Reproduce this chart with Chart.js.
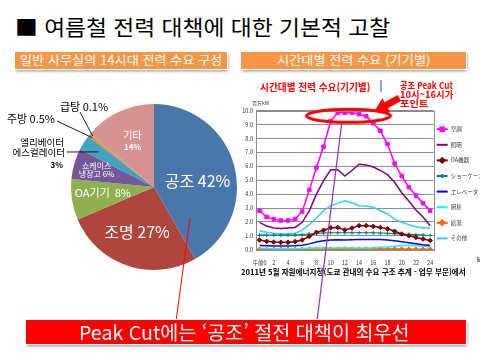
<!DOCTYPE html>
<html lang="ko">
<head>
<meta charset="utf-8">
<script src="https://cdn.jsdelivr.net/npm/chart.js@4.4.1/dist/chart.umd.min.js"></script>
<style>
  html, body { margin: 0; padding: 0; background: #fff; }
  #slide { position: relative; width: 480px; height: 360px; overflow: hidden; font-family: 'Noto Sans CJK KR', sans-serif; }
  .txt { position: absolute; display: inline-block; white-space: nowrap; line-height: 1; transform-origin: left center; }
  .box { position: absolute; outline: 1px solid #fff; box-shadow: 1px 2px 3px rgba(0,0,0,0.45); }
  canvas { position: absolute; }
  svg { position: absolute; left: 0; top: 0; }
</style>
</head>
<body>
<div id="slide">
  <span class="txt" data-w="375" style="left:15px;top:16px;font-size:21px;color:#000">■ 여름철 전력 대책에 대한 기본적 고찰</span>

  <div class="box" style="left:15px;top:52px;width:212px;height:17px;background:#f79646"></div>
  <span class="txt" data-w="202" style="left:20px;top:54px;font-size:12.5px;color:#fff">일반 사무실의 14시대 전력 수요 구성</span>
  <div class="box" style="left:241px;top:52px;width:225px;height:17px;background:#f79646"></div>
  <span class="txt" data-w="153" style="left:277px;top:54px;font-size:12.5px;color:#fff">시간대별 전력 수요 (기기별)</span>

  <canvas id="pieChart" width="240" height="240" style="left:0;top:72px"></canvas>
  <canvas id="lineChart" width="244" height="172" style="left:236px;top:96px"></canvas>

  <span class="txt" data-w="110" style="left:260px;top:82px;font-size:10px;color:#ff0000;font-weight:600">시간대별 전력 수요(기기별)</span>
  <span class="txt" data-w="53" style="left:400px;top:81px;font-size:9.5px;color:#ff0000;font-weight:700">공조 Peak Cut</span>
  <span class="txt" data-w="53" style="left:400px;top:90px;font-size:9.5px;color:#ff0000;font-weight:700">10시~16시가</span>
  <span class="txt" data-w="28" style="left:400px;top:99px;font-size:9.5px;color:#ff0000;font-weight:700">포인트</span>

  <span class="txt" data-w="225" style="left:241px;top:268px;font-size:8px;color:#000;font-weight:700">2011년 5월 자원에너지청(도쿄 관내의 수요 구조 추계 - 업무 부문)에서</span>

  <svg width="480" height="360">
    <line x1="381" y1="80" x2="381" y2="92" stroke="#2040ff" stroke-width="1"/>
    <line x1="190" y1="218" x2="176" y2="321" stroke="#ff0000" stroke-width="1"/>
    <line x1="342" y1="121" x2="317" y2="321" stroke="#9933cc" stroke-width="1.3"/>
    <ellipse cx="348.5" cy="115.8" rx="42" ry="6.5" fill="none" stroke="#ff0000" stroke-width="3"/>
    <polygon points="0,0 14,-8 14,-3.5 29,-3.5 29,3.5 14,3.5 14,8" fill="#ff0000" transform="translate(374,112) rotate(-29)"/>
  </svg>

  <div class="box" style="left:26px;top:320px;width:440px;height:24px;background:#ff0000"></div>
  <span class="txt" data-w="331" style="left:79px;top:322px;font-size:19px;color:#fff">Peak Cut에는 ‘공조’ 절전 대책이 최우선</span>
</div>

<script>
// --- 원그래프 데이터 ---
const pieLabels = ['공조', '조명', 'OA기기', '쇼케이스 냉장고', '엘리베이터 에스컬레이터', '주방', '급탕', '기타'];
const pieValues = [42, 27, 8, 6, 3, 0.5, 0.1, 14];
const pieColors = ['#4a77ab', '#b0443f', '#90af52', '#74569a', '#40a3bf', '#f58b30', '#6f93c8', '#d49390'];

// --- 꺾은선 데이터 (단위: 백만kW) ---
const hours = ['0', '1', '2', '3', '4', '5', '6', '7', '8', '9', '10', '11', '12', '13', '14', '15', '16', '17', '18', '19', '20', '21', '22', '23', '24'];
const seriesNames = ['空調', '照明', 'OA機器', 'ショーケース冷蔵庫', 'エレベータ・エスカレータ', '厨房', '給湯', 'その他'];
const aircon   = [2.8, 2.35, 2.2, 2.1, 2.1, 2.2, 2.75, 4.3, 5.9, 7.4, 9.25, 9.85, 9.85, 9.85, 9.75, 9.6, 9.1, 8.55, 7.6, 6.2, 5.3, 4.5, 3.9, 3.35, 2.8];
const lighting = [1.97, 1.7, 1.56, 1.53, 1.56, 1.6, 1.97, 2.8, 4.0, 4.95, 5.75, 5.75, 5.3, 5.7, 6.15, 6.1, 5.95, 5.7, 5.4, 4.85, 4.1, 3.5, 2.85, 2.35, 1.73];
const oaDevice = [0.7, 0.6, 0.55, 0.53, 0.53, 0.58, 0.7, 0.95, 1.25, 1.4, 1.58, 1.6, 1.42, 1.56, 1.73, 1.73, 1.68, 1.6, 1.5, 1.33, 1.13, 1.0, 0.88, 0.77, 0.66];
const showcase = [1.05, 1.05, 1.05, 1.05, 1.05, 1.05, 1.08, 1.12, 1.17, 1.2, 1.22, 1.22, 1.22, 1.22, 1.22, 1.22, 1.22, 1.2, 1.18, 1.15, 1.12, 1.1, 1.08, 1.05, 1.02];
const elevator = [0.3, 0.28, 0.27, 0.27, 0.27, 0.28, 0.32, 0.42, 0.55, 0.65, 0.7, 0.72, 0.7, 0.72, 0.74, 0.74, 0.74, 0.73, 0.7, 0.65, 0.57, 0.5, 0.42, 0.35, 0.3];
const kitchen  = [0.1, 0.08, 0.07, 0.07, 0.07, 0.07, 0.08, 0.1, 0.12, 0.12, 0.12, 0.12, 0.15, 0.12, 0.12, 0.13, 0.14, 0.17, 0.2, 0.25, 0.3, 0.3, 0.3, 0.27, 0.2];
const hotWater = [0.02, 0.02, 0.02, 0.02, 0.02, 0.02, 0.03, 0.04, 0.05, 0.05, 0.05, 0.05, 0.05, 0.05, 0.05, 0.05, 0.05, 0.05, 0.05, 0.05, 0.05, 0.04, 0.04, 0.03, 0.03];
const others   = [1.37, 1.25, 1.18, 1.13, 1.13, 1.18, 1.41, 1.8, 2.28, 2.8, 3.17, 3.33, 3.52, 3.38, 3.17, 3.14, 3.05, 2.8, 2.57, 2.2, 1.97, 1.8, 1.65, 1.56, 1.56];

const FONT = "'Noto Sans CJK KR', sans-serif";

// 텍스트 폭 맞추기
function fitTexts() {
    document.querySelectorAll('.txt[data-w]').forEach(el => {
        el.style.transform = 'none';
        const w = el.offsetWidth;
        if (w > 0) el.style.transform = 'scaleX(' + (parseFloat(el.dataset.w) / w) + ')';
    });
}
fitTexts();
if (document.fonts) document.fonts.ready.then(fitTexts);

// --- 원그래프 라벨 플러그인 ---
const pct = i => pieValues[i] + '%';
const inner = {
    0: { lines: [pieLabels[0] + ' ' + pct(0)], r: 0.53, da: 7, size: 16 },
    1: { lines: [pieLabels[1] + ' ' + pct(1)], r: 0.58, da: 2, size: 16 },
    2: { lines: [pieLabels[2] + '  ' + pct(2)], r: 0.62, da: 2.5, size: 11 },
    3: { lines: ['쇼케이스', '냉장고 ' + pct(3)], r: 0.72, da: 0, size: 8, gap: 8 },
    7: { lines: [pieLabels[7], pct(7)], r: 0.61, da: 0, size: 10, gap: 12 }
};
const pieLabelPlugin = {
    id: 'pieLabels',
    afterDraw(chart) {
        const ctx = chart.ctx;
        const arcs = chart.getDatasetMeta(0).data;
        const cx = arcs[0].x, cy = arcs[0].y, R = arcs[0].outerRadius;
        const mid = a => (a.startAngle + a.endAngle) / 2;
        ctx.save();
        ctx.textAlign = 'center';
        ctx.textBaseline = 'middle';
        Object.keys(inner).forEach(k => {
            const s = inner[k], a = arcs[k];
            const ang = mid(a) + s.da * Math.PI / 180;
            const x = cx + Math.cos(ang) * R * s.r, y = cy + Math.sin(ang) * R * s.r;
            const gap = s.gap || 0;
            s.lines.forEach((t, j) => {
                ctx.fillStyle = '#fff';
                ctx.font = (k === '7' && j === 1 ? 'bold 8px ' : s.size + 'px ') + FONT;
                ctx.fillText(t, x, y + (j - (s.lines.length - 1) / 2) * gap);
            });
        });

        // 바깥 라벨 + 지시선
        const lead = (i, r, ex, ey) => {
            const a = mid(arcs[i]);
            ctx.beginPath();
            ctx.moveTo(cx + Math.cos(a) * R * r, cy + Math.sin(a) * R * r);
            ctx.lineTo(cx + ex, cy + ey);
            ctx.strokeStyle = '#1a1a1a';
            ctx.lineWidth = 1;
            ctx.stroke();
        };
        lead(4, 0.79, -87, -35);
        lead(5, 0.95, -97, -66);
        lead(6, 0.96, -74, -75);

        ctx.fillStyle = '#000';
        ctx.textAlign = 'right';
        ctx.font = '9.5px ' + FONT;
        ctx.fillText('엘리베이터', cx - 90, cy - 45);
        ctx.fillText('에스컬레이터', cx - 89, cy - 35);
        ctx.font = 'bold 8px ' + FONT;
        ctx.fillText(pct(4), cx - 91, cy - 22);
        ctx.font = '11px ' + FONT;
        ctx.fillText(pieLabels[5] + ' ' + pct(5), cx - 99, cy - 68);
        ctx.textAlign = 'center';
        ctx.fillText(pieLabels[6] + ' ' + pct(6), cx - 70, cy - 80);
        ctx.restore();
    }
};

new Chart(document.getElementById('pieChart'), {
    type: 'pie',
    data: {
        labels: pieLabels,
        datasets: [{ data: pieValues, backgroundColor: pieColors, borderWidth: 0 }]
    },
    options: {
        responsive: false, animation: false, devicePixelRatio: 1,
        layout: { padding: { left: 71, right: 3, top: 32, bottom: 42 } },
        plugins: { legend: { display: false }, tooltip: { enabled: false } }
    },
    plugins: [pieLabelPlugin]
});

// --- 꺾은선 그래프 ---
const lineStyles = [
    { c: '#ff00ff', w: 1.5, p: 'rect', r: 2.5 },
    { c: '#800080', w: 1.5, p: false },
    { c: '#800000', w: 1.5, p: 'rectRot', r: 2.3 },
    { c: '#008080', w: 1.2, p: 'cross', r: 2 },
    { c: '#0000ff', w: 1.5, p: false },
    { c: '#00ffff', w: 1.5, p: false },
    { c: '#ff6600', w: 1.5, p: 'rectRot', r: 2.3 },
    { c: '#33ccff', w: 1.5, p: false }
];
const seriesData = [aircon, lighting, oaDevice, showcase, elevator, kitchen, hotWater, others];

const frameAndLegend = {
    id: 'frameAndLegend',
    afterDraw(chart) {
        const { ctx, chartArea: a } = chart;
        ctx.save();
        ctx.strokeStyle = '#8c8c8c';
        ctx.lineWidth = 1;
        ctx.strokeRect(Math.round(a.left) + 0.5, Math.round(a.top) + 0.5, Math.round(a.right - a.left), Math.round(a.bottom - a.top));
        ctx.fillStyle = '#333';
        ctx.font = '5px ' + FONT;
        ctx.textBaseline = 'middle';
        ctx.fillText('百万kW', a.left - 4, a.top - 8);
        // 범례
        ctx.font = '5.5px ' + FONT;
        chart.data.datasets.forEach((ds, i) => {
            const y = a.top + 18.5 + i * 15.6, x = a.right + 3;
            ctx.strokeStyle = ds.borderColor;
            ctx.lineWidth = 2;
            ctx.beginPath(); ctx.moveTo(x, y); ctx.lineTo(x + 11, y); ctx.stroke();
            if (ds.pointStyle) {
                ctx.fillStyle = ds.borderColor;
                Chart.helpers.drawPoint(ctx, { pointStyle: ds.pointStyle, radius: ds.pointRadius, borderWidth: 1 }, x + 5.5, y);
            }
            ctx.fillStyle = '#333';
            ctx.fillText(ds.label, x + 14, y);
        });
        ctx.fillText('時', a.right + 43, a.bottom + 10);
        ctx.restore();
    }
};

new Chart(document.getElementById('lineChart'), {
    type: 'line',
    data: {
        labels: hours,
        datasets: seriesData.map((d, i) => ({
            label: seriesNames[i],
            data: d,
            borderColor: lineStyles[i].c,
            backgroundColor: lineStyles[i].c,
            borderWidth: lineStyles[i].w,
            pointStyle: lineStyles[i].p,
            pointRadius: lineStyles[i].p ? lineStyles[i].r : 0,
            pointBorderWidth: 1,
            tension: 0
        }))
    },
    options: {
        responsive: false, animation: false, devicePixelRatio: 1,
        layout: { padding: { left: 0, top: 14.7, right: 46.3, bottom: 0 } },
        plugins: { legend: { display: false }, tooltip: { enabled: false } },
        scales: {
            x: {
                offset: true,
                grid: { display: false },
                border: { display: false },
                ticks: {
                    autoSkip: false, maxRotation: 0, padding: 2,
                    color: '#333', font: { size: 5.5, family: FONT },
                    callback: (v, i) => i % 2 === 0 ? (i === 0 ? '午前0' : hours[i]) : ''
                },
                afterFit: s => { s.height = 18.3; }
            },
            y: {
                min: 0, max: 10,
                grid: { color: '#8c8c8c', lineWidth: 1, drawTicks: false },
                border: { display: false },
                ticks: {
                    stepSize: 1, padding: 3,
                    color: '#333', font: { size: 5.5, family: FONT },
                    callback: v => v.toFixed(1)
                },
                afterFit: s => { s.width = 20; }
            }
        }
    },
    plugins: [frameAndLegend]
});
</script>
</body>
</html>
